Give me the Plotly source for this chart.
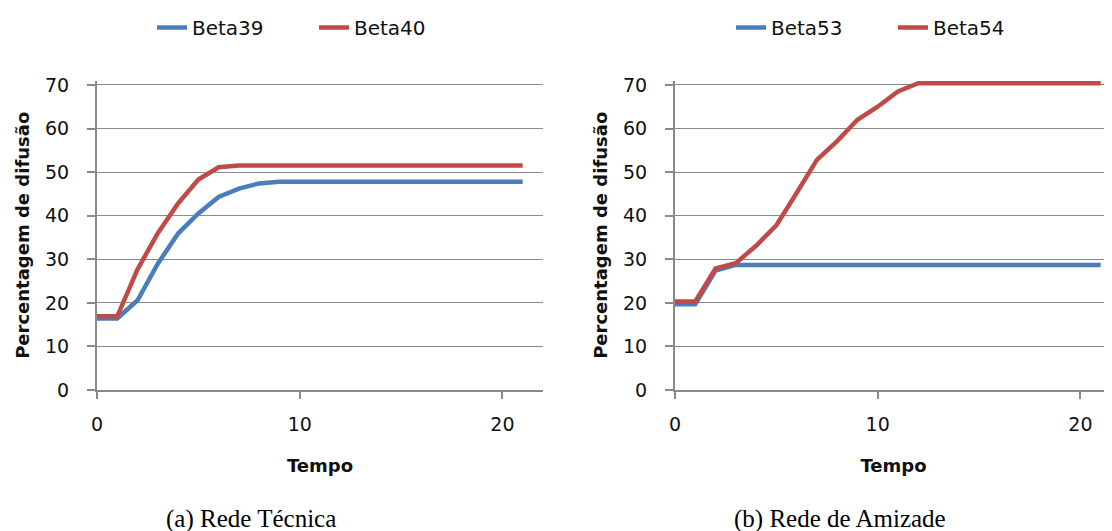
import plotly.graph_objects as go

# ---- data ----
tempo = list(range(22))
beta39 = [16.4, 16.4, 20.6, 29.0, 35.9, 40.5, 44.3, 46.2, 47.4, 47.8, 47.8, 47.8, 47.8, 47.8,
          47.8, 47.8, 47.8, 47.8, 47.8, 47.8, 47.8, 47.8]
beta40 = [16.9, 16.9, 27.7, 36.0, 42.8, 48.3, 51.1, 51.5, 51.5, 51.5, 51.5, 51.5, 51.5, 51.5,
          51.5, 51.5, 51.5, 51.5, 51.5, 51.5, 51.5, 51.5]
beta53 = [19.7, 19.7, 27.4, 28.7, 28.7, 28.7, 28.7, 28.7, 28.7, 28.7, 28.7, 28.7, 28.7, 28.7,
          28.7, 28.7, 28.7, 28.7, 28.7, 28.7, 28.7, 28.7]
beta54 = [20.3, 20.3, 27.9, 29.1, 33.1, 37.8, 45.2, 52.8, 57.1, 62.0, 65.0, 68.5, 70.4, 70.4,
          70.4, 70.4, 70.4, 70.4, 70.4, 70.4, 70.4, 70.4]
y_ticks = [0, 10, 20, 30, 40, 50, 60, 70]
x_ticks = [0, 10, 20]
captions = ["(a) Rede Técnica", "(b) Rede de Amizade"]

BLUE = "#4A7EBB"
RED = "#BE4B48"
GRID = "#8A8A8A"
OFF = 8            # page body margin
W, H = 1112 - OFF, 531 - OFF


def px(x):
    return (x - OFF) / W


def py(y):
    return 1 - (y - OFF) / H


fig = go.Figure()
fig.add_trace(go.Scatter(x=tempo, y=beta39, name="Beta39", mode="lines",
                         line=dict(color=BLUE, width=4.5), xaxis="x", yaxis="y", legend="legend"))
fig.add_trace(go.Scatter(x=tempo, y=beta40, name="Beta40", mode="lines",
                         line=dict(color=RED, width=4.5), xaxis="x", yaxis="y", legend="legend"))
fig.add_trace(go.Scatter(x=tempo, y=beta53, name="Beta53", mode="lines",
                         line=dict(color=BLUE, width=4.5), xaxis="x2", yaxis="y2", legend="legend2"))
fig.add_trace(go.Scatter(x=tempo, y=beta54, name="Beta54", mode="lines",
                         line=dict(color=RED, width=4.5), xaxis="x2", yaxis="y2", legend="legend2"))

tickfont = dict(family="DejaVu Sans", size=19, color="#111")
titlefont = dict(family="DejaVu Sans", size=18, color="#111", weight="bold")

ydom = [py(390), py(80.6)]


def xaxis(dom, rng):
    return dict(domain=dom, range=rng, tickvals=x_ticks, showgrid=False, zeroline=False,
                showline=True, linecolor=GRID, linewidth=2, ticks="outside", ticklen=7,
                tickcolor=GRID, tickwidth=1.5, tickfont=tickfont, ticklabelstandoff=9,
                title=dict(text="Tempo", font=titlefont, standoff=26), automargin=False,
                fixedrange=True)


def yaxis(anchor):
    return dict(domain=ydom, range=[0, 71], tickvals=y_ticks, showgrid=True, gridcolor=GRID,
                gridwidth=1.3, zeroline=False, showline=True, linecolor=GRID, linewidth=2,
                ticks="outside", ticklen=8, tickcolor=GRID, tickwidth=1.5, tickfont=tickfont,
                ticklabelstandoff=14, anchor=anchor,
                title=dict(text="Percentagem de difusão", font=titlefont, standoff=11),
                automargin=False, fixedrange=True)


legend_common = dict(orientation="h", font=dict(family="DejaVu Sans", size=20, color="#111"),
                     bgcolor="rgba(0,0,0,0)", xanchor="left", yanchor="top", tracegroupgap=0,
                     entrywidth=117, entrywidthmode="pixels")

fig.update_layout(
    width=W, height=H,
    margin=dict(l=0, r=0, t=0, b=0),
    paper_bgcolor="white", plot_bgcolor="white",
    xaxis=xaxis([px(97), px(543)], [0, 22]),
    yaxis=yaxis("x"),
    xaxis2=xaxis([px(675), 1.0], [0, (1112 - 675) / 20.27]),
    yaxis2=yaxis("x2"),
    legend=dict(x=px(152), y=1.0, **legend_common),
    legend2=dict(x=px(731), y=1.0, **legend_common),
    annotations=[
        dict(text=captions[0], x=px(251), y=py(519), xref="paper", yref="paper",
             showarrow=False, xanchor="center", yanchor="middle",
             font=dict(family="Liberation Serif", size=25, color="black")),
        dict(text=captions[1], x=px(840), y=py(519), xref="paper", yref="paper",
             showarrow=False, xanchor="center", yanchor="middle",
             font=dict(family="Liberation Serif", size=25, color="black")),
    ],
)

fig.write_html("out.html")
